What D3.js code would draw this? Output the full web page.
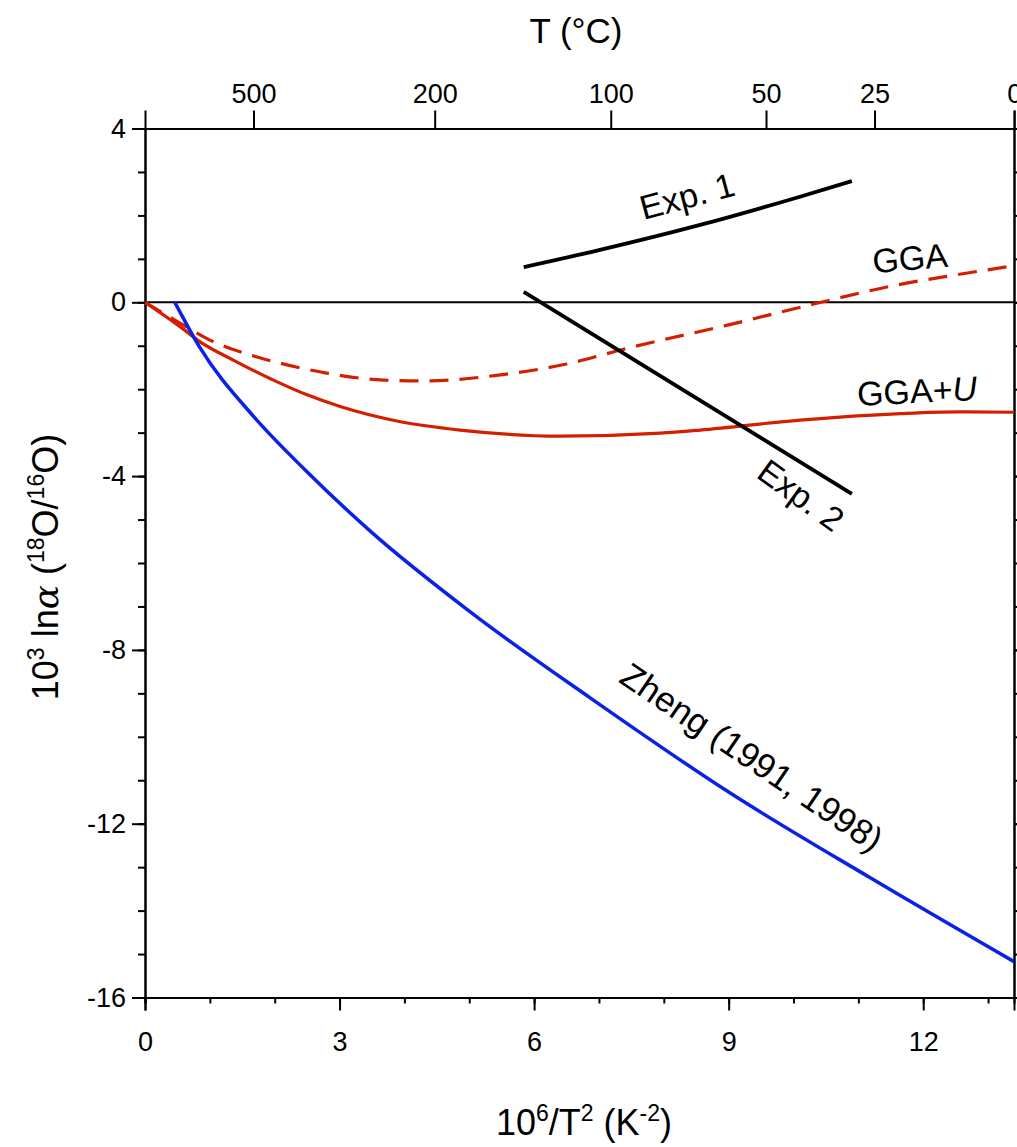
<!DOCTYPE html>
<html><head><meta charset="utf-8">
<script src="https://cdn.jsdelivr.net/npm/d3@7"></script>
<style>
body{margin:0;background:#fff;}
text{font-family:"Liberation Sans",Arial,sans-serif;fill:#000;}
</style></head>
<body>
<svg id="chart" width="1017" height="1147"></svg>
<script>
// ---- data ----
const xTicks = [0, 3, 6, 9, 12];
const yTicks = [4, 0, -4, -8, -12, -16];
const topTickLabels = [500, 200, 100, 50, 25, 0];   // T in °C

const exp1X = [5.84, 7.0, 8.56, 10.1, 10.9];
const exp1Y = [0.81, 1.20, 1.78, 2.43, 2.79];

const exp2X = [5.84, 10.9];
const exp2Y = [0.24, -4.41];

const ggaX = [0, 0.54, 1.0, 1.62, 2.19, 2.80, 3.68, 4.32, 5.48, 6.5, 7.43, 9.0, 10.31, 11.6, 12.5, 13.4];
const ggaY = [0, -0.48, -0.87, -1.21, -1.44, -1.63, -1.79, -1.81, -1.67, -1.42, -1.06, -0.52, -0.04, 0.40, 0.63, 0.84];

const ggaUX = [0, 0.54, 0.85, 1.36, 1.98, 2.50, 3.01, 3.94, 4.86, 6.4, 7.95, 8.56, 10.1, 11.65, 12.53, 13.4];
const ggaUY = [0, -0.56, -0.91, -1.33, -1.79, -2.13, -2.40, -2.75, -2.94, -3.08, -3.01, -2.94, -2.71, -2.56, -2.52, -2.53];

const zhengX = [0.46, 0.85, 1.67, 2.47, 3.50, 5.02, 6.87, 9.03, 11.19, 13.43];
const zhengY = [0, -1.05, -2.62, -3.86, -5.30, -7.13, -9.11, -11.30, -13.25, -15.2];

// ---- layout ----
const svg = d3.select("#chart");
const L = 145, R = 1014, T = 128.5, B = 997.5;
const x = d3.scaleLinear().domain([0, 13.4]).range([L, R]);
const y = d3.scaleLinear().domain([-16, 4]).range([B, T]);
const tempToX = t => 1e6 / Math.pow(t + 273.15, 2);
const hyph = d => String(d).replace("\u2212", "-");

svg.append("clipPath").attr("id","clip").append("rect")
  .attr("x", L).attr("y", T).attr("width", R - L).attr("height", B - T);

const FS = 27;

// bottom axis
const gBottom = svg.append("g").attr("transform", `translate(0,${B})`);
gBottom.call(d3.axisBottom(x).tickValues(d3.range(0, 14, 1)).tickSize(6).tickFormat(""));
gBottom.append("g").call(d3.axisBottom(x).tickValues(xTicks).tickSize(13).tickPadding(21).tickFormat(d => hyph(d)));
// left axis
const gLeft = svg.append("g").attr("transform", `translate(${L},0)`);
gLeft.call(d3.axisLeft(y).tickValues(d3.range(-16, 5, 1)).tickSize(7).tickFormat(""));
gLeft.append("g").call(d3.axisLeft(y).tickValues(yTicks).tickSize(13).tickPadding(6).tickFormat(d => hyph(d)));
// right axis
const gRight = svg.append("g").attr("transform", `translate(${R},0)`);
gRight.call(d3.axisRight(y).tickValues(d3.range(-16, 5, 1)).tickSize(7).tickFormat(""));
gRight.append("g").call(d3.axisRight(y).tickValues(yTicks).tickSize(13).tickFormat(""));
// top axis (temperature)
const gTop = svg.append("g").attr("transform", `translate(0,${T})`);
gTop.call(d3.axisTop(x).tickValues(topTickLabels.map(tempToX)).tickSize(18).tickPadding(8)
  .tickFormat((d, i) => topTickLabels[i]));

svg.selectAll(".domain").attr("stroke", "#000").attr("stroke-width", 2);
svg.selectAll(".tick line").attr("stroke", "#000").attr("stroke-width", 2);
svg.selectAll(".tick text").style("font-size", FS + "px").style("font-family", '"Liberation Sans",Arial,sans-serif');

// ---- curves ----
const line = d3.line().x(d => x(d[0])).y(d => y(d[1])).curve(d3.curveMonotoneX);
const lin = d3.line().x(d => x(d[0])).y(d => y(d[1]));
const zip = (a, b) => a.map((v, i) => [v, b[i]]);
const plot = svg.append("g").attr("clip-path", "url(#clip)");

plot.append("path").datum([[0, 0], [13.4, 0]]).attr("d", lin)
  .attr("fill", "none").attr("stroke", "#000").attr("stroke-width", 2);
plot.append("path").datum(zip(ggaX, ggaY)).attr("d", line)
  .attr("fill", "none").attr("stroke", "#d41e00").attr("stroke-width", 3.2).attr("stroke-dasharray", "19,11");
plot.append("path").datum(zip(ggaUX, ggaUY)).attr("d", line)
  .attr("fill", "none").attr("stroke", "#d41e00").attr("stroke-width", 3.2);
plot.append("path").datum(zip(zhengX, zhengY)).attr("d", line)
  .attr("fill", "none").attr("stroke", "#0a22e6").attr("stroke-width", 3.5);
plot.append("path").datum(zip(exp1X, exp1Y)).attr("d", line)
  .attr("fill", "none").attr("stroke", "#000").attr("stroke-width", 3.8);
plot.append("path").datum(zip(exp2X, exp2Y)).attr("d", lin)
  .attr("fill", "none").attr("stroke", "#000").attr("stroke-width", 3.8);

// ---- curve labels ----
function label(txt, cx, cy, rot, fs) {
  return svg.append("text").attr("transform", `translate(${cx},${cy}) rotate(${rot})`)
    .attr("text-anchor", "middle").attr("dominant-baseline", "central")
    .style("font-size", fs + "px").text(txt);
}
label("Exp. 1", 687, 196, -15, 34);
label("GGA", 910, 258, -5, 34);
const gu = svg.append("text").attr("transform", `translate(917,391) rotate(-3)`)
  .attr("text-anchor", "middle").attr("dominant-baseline", "central").style("font-size", "34px");
gu.append("tspan").text("GGA+");
gu.append("tspan").style("font-style", "italic").text("U");
label("Exp. 2", 801, 495, 36, 34);
label("Zheng (1991, 1998)", 752, 757, 34, 35);

// ---- axis titles ----
const tt = svg.append("text").attr("x", 576).attr("y", 43).attr("text-anchor", "middle").style("font-size", "35px");
tt.text("T (°C)");

const xt = svg.append("text").attr("x", 584).attr("y", 1135).attr("text-anchor", "middle").style("font-size", "36px");
xt.append("tspan").text("10");
xt.append("tspan").attr("dy", -14).style("font-size", "23px").text("6");
xt.append("tspan").attr("dy", 14).text("/T");
xt.append("tspan").attr("dy", -14).style("font-size", "23px").text("2");
xt.append("tspan").attr("dy", 14).text(" (K");
xt.append("tspan").attr("dy", -14).style("font-size", "23px").text("-2");
xt.append("tspan").attr("dy", 14).text(")");

const yt = svg.append("text").attr("transform", "translate(58,567) rotate(-90)").attr("text-anchor", "middle").style("font-size", "36px");
yt.append("tspan").text("10");
yt.append("tspan").attr("dy", -14).style("font-size", "23px").text("3");
yt.append("tspan").attr("dy", 14).text(" ln");
yt.append("tspan").style("font-style", "italic").style("font-family", '"DejaVu Serif",serif').text("α");
yt.append("tspan").text(" (");
yt.append("tspan").attr("dy", -14).style("font-size", "23px").text("18");
yt.append("tspan").attr("dy", 14).text("O/");
yt.append("tspan").attr("dy", -14).style("font-size", "23px").text("16");
yt.append("tspan").attr("dy", 14).text("O)");
</script>
</body></html>
